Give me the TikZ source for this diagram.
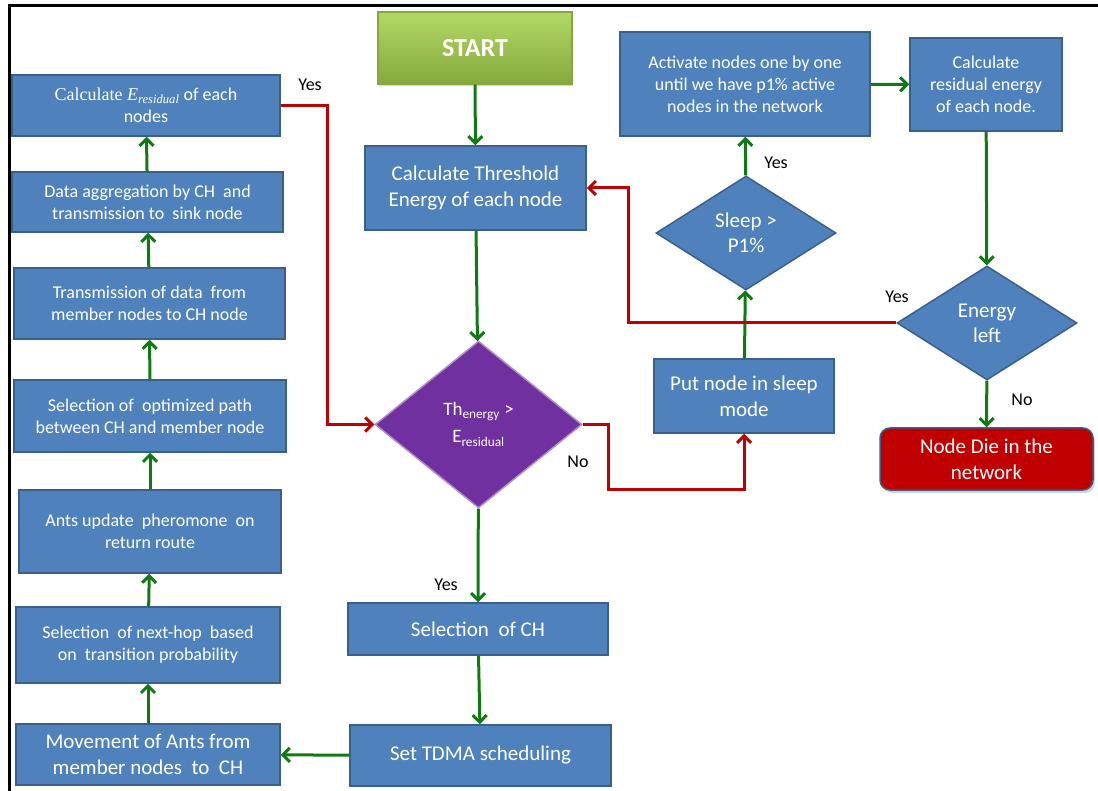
\documentclass[tikz,border=0pt]{standalone}
\usepackage{fontspec}
\setmainfont{Carlito}
\newfontfamily\calcserif{Liberation Serif}
\usetikzlibrary{arrows.meta,positioning,shapes.geometric,shadows}
\definecolor{boxblue}{HTML}{4F81BD}
\definecolor{boxedge}{HTML}{3A5F8B}
\definecolor{flowgreen}{HTML}{107A12}
\definecolor{flowred}{HTML}{C00000}
\definecolor{decpurple}{HTML}{7030A0}
\definecolor{startlight}{HTML}{B2D966}
\definecolor{startdark}{HTML}{86A83B}

\begin{document}
\begin{tikzpicture}[x=1pt,y=-1pt,
  stepbox/.style={draw=boxedge,line width=1.5pt,fill=boxblue,text=white,align=center,inner sep=2pt,font=\fontsize{18}{22}\selectfont},
  bigbox/.style={stepbox,font=\fontsize{21}{26}\selectfont},
  decide/.style={diamond,draw=boxedge,line width=1.5pt,fill=boxblue,text=white,align=center,inner sep=0pt,font=\fontsize{21}{25}\selectfont},
  garrow/.style={draw=flowgreen,line width=3pt,-{Straight Barb[length=7pt,width=14pt]}},
  rarrow/.style={draw=flowred,line width=3pt,-{Straight Barb[length=7pt,width=14pt]}},
  lbl/.style={font=\fontsize{18}{22}\selectfont,inner sep=1pt}]
  \useasboundingbox (0,0) rectangle (1098,791);
  \draw[line width=3pt] (9,791) -- (9,6) -- (1098,6);

  % left column, bottom to top
  \node[stepbox,minimum width=268pt,minimum height=61pt] (calcres) at (146,105.5) {{\calcserif Calculate \itshape E\textsubscript{residual}} of each\\nodes};
  \node[stepbox,minimum width=271pt,minimum height=60pt] (aggr) at (147.5,202) {Data aggregation by CH~ and\\transmission to~ sink node};
  \node[stepbox,minimum width=271pt,minimum height=71pt] (trans) at (149.5,303.5) {Transmission of data~ from\\member nodes to CH node};
  \node[stepbox,minimum width=272pt,minimum height=72pt] (optpath) at (150,416) {Selection of~ optimized path\\between CH and member node};
  \node[stepbox,minimum width=262pt,minimum height=83pt] (phero) at (150,531.5) {Ants update~ pheromone~ on\\return route};
  \node[stepbox,minimum width=264pt,minimum height=76pt] (nexthop) at (148,645) {Selection~ of next-hop~ based\\on~ transition probability};
  \node[bigbox,minimum width=264pt,minimum height=61pt] (antmove) at (148,754.5) {Movement of Ants from\\member nodes~ to~ CH};

  % middle column
  \node[stepbox,minimum width=194pt,minimum height=72pt,draw=startdark,top color=startlight,bottom color=startdark,
        font=\fontsize{26}{30}\selectfont\bfseries,drop shadow={shadow xshift=1pt,shadow yshift=-2pt,opacity=0.3}] (start) at (475,48) {START};
  \node[bigbox,minimum width=221pt,minimum height=84pt] (thresh) at (475.5,188) {Calculate Threshold\\Energy of each node};
  \node[decide,fill=decpurple,draw=decpurple!55!white,minimum width=207pt,minimum height=167pt,
        font=\fontsize{19}{27}\selectfont] (cmp) at (478.5,424.5) {Th\textsubscript{energy} >\\E\textsubscript{residual}};
  \node[bigbox,minimum width=260pt,minimum height=52pt] (selch) at (478,629) {Selection~ of CH};
  \node[bigbox,minimum width=261pt,minimum height=61pt] (tdma) at (480.5,755.5) {Set TDMA scheduling};

  % right part
  \node[stepbox,minimum width=250pt,minimum height=104pt] (activate) at (745,84) {Activate nodes one by one\\until we have p1\% active\\nodes in the network};
  \node[stepbox,minimum width=152pt,minimum height=93pt] (resen) at (986,84.5) {Calculate\\residual energy\\of each node.};
  \node[decide,minimum width=180pt,minimum height=114pt] (sleepchk) at (746,233) {Sleep >\\P1\%};
  \node[bigbox,minimum width=180pt,minimum height=74pt] (sleep) at (744,396) {Put node in sleep\\mode};
  \node[decide,minimum width=180pt,minimum height=114pt] (enleft) at (987,323) {Energy\\left};
  \node[bigbox,minimum width=213pt,minimum height=62pt,fill=flowred,rounded corners=10pt,
        drop shadow={shadow xshift=2pt,shadow yshift=-3pt,opacity=0.35}] (die) at (986.5,459) {Node Die in the\\network};

  % green flow
  \draw[garrow] (start) -- (thresh);
  \draw[garrow] (thresh) -- (cmp);
  \draw[garrow] (cmp) -- (selch);
  \draw[garrow] (selch) -- (tdma);
  \draw[garrow] (tdma) -- (antmove);
  \draw[garrow] (antmove) -- (nexthop);
  \draw[garrow] (nexthop) -- (phero);
  \draw[garrow] (phero) -- (optpath);
  \draw[garrow] (optpath) -- (trans);
  \draw[garrow] (trans) -- (aggr);
  \draw[garrow] (aggr) -- (calcres);
  \draw[garrow] (sleep) -- (sleepchk);
  \draw[garrow] (sleepchk) -- (activate);
  \draw[garrow] (activate) -- (resen);
  \draw[garrow] (resen) -- (enleft);
  \draw[garrow] (enleft) -- (die);

  % red flow
  \draw[rarrow] (calcres.east) -| ([xshift=-47pt]cmp.west) -- (cmp.west);
  \draw[rarrow] (cmp.east) -- ++(26,0) -- ++(0,65) -| (sleep.south);
  \draw[rarrow] (enleft.west) -| ([xshift=42pt]thresh.east) -- (thresh.east);

  % labels
  \node[lbl] (yescalc) at (310,85) {Yes};
  \node[lbl] (yescmp) at (446,585) {Yes};
  \node[lbl] (nocmp) at (578,462) {No};
  \node[lbl] (yessleep) at (776,163) {Yes};
  \node[lbl] (yesen) at (897,297) {Yes};
  \node[lbl] (noen) at (1022,400) {No};
\end{tikzpicture}
\end{document}
